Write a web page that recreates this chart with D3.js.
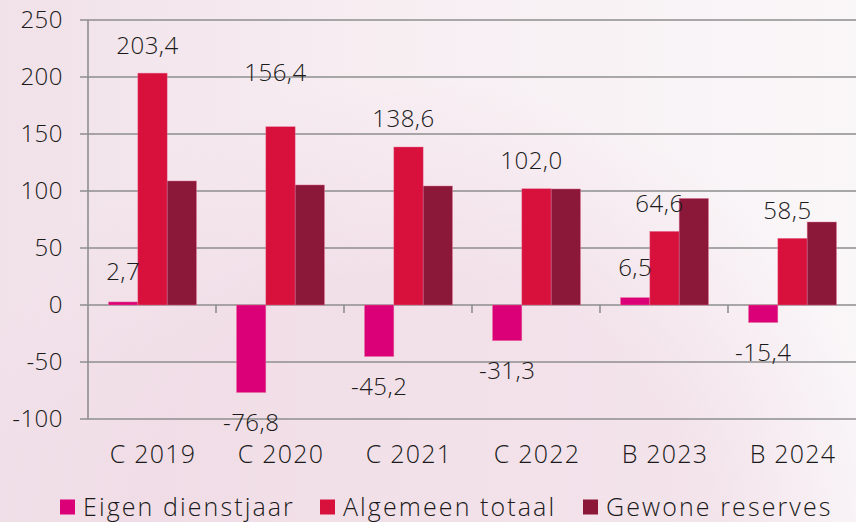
<!DOCTYPE html>
<html><head><meta charset="utf-8">
<script src="https://cdn.jsdelivr.net/npm/d3@7"></script>
<style>
html,body{margin:0;padding:0;}
body{width:856px;height:522px;overflow:hidden;}
text{font-family:"Open Sans",sans-serif;font-weight:300;fill:#1a1a1a;}
</style></head><body>
<svg id="chart" width="856" height="522"></svg>
<script>
const categories = ["C 2019","C 2020","C 2021","C 2022","B 2023","B 2024"];
const seriesNames = ["Eigen dienstjaar","Algemeen totaal","Gewone reserves"];
const eigenDienstjaar = [2.7,-76.8,-45.2,-31.3,6.5,-15.4];
const algemeenTotaal = [203.4,156.4,138.6,102.0,64.6,58.5];
const gewoneReserves = [108.8,105.3,104.4,101.8,93.5,72.8];
const yTicks = [-100,-50,0,50,100,150,200,250];
const colors = ["#dc0078","#d7103c","#8b1838"];

const svg = d3.select("#chart");
const defs = svg.append("defs");
const lg = defs.append("linearGradient").attr("id","bg").attr("x1","0").attr("x2","1").attr("y1","0").attr("y2","0");
lg.append("stop").attr("offset","0").attr("stop-color","#f1e1e9");
lg.append("stop").attr("offset","0.45").attr("stop-color","#f7eef2");
lg.append("stop").attr("offset","1").attr("stop-color","#faf7f9");
svg.append("rect").attr("width",856).attr("height",522).attr("fill","url(#bg)");
const rg = defs.append("radialGradient").attr("id","blob");
rg.append("stop").attr("offset","0.6").attr("stop-color","#eed5e1").attr("stop-opacity",0.55);
rg.append("stop").attr("offset","1").attr("stop-color","#eed5e1").attr("stop-opacity",0);
svg.append("circle").attr("cx",420).attr("cy",560).attr("r",480).attr("fill","url(#blob)");

const data = categories.map((c,i)=>({cat:c, vals:[eigenDienstjaar[i],algemeenTotaal[i],gewoneReserves[i]]}));

const x0 = d3.scaleBand().domain(categories).range([88,856]).padding(0);
const x1 = d3.scaleBand().domain(d3.range(3)).range([20.5,108.5]).padding(0);
const y = d3.scaleLinear().domain([-100,250]).range([419,20]);
const fmt = v => d3.format(".1f")(v).replace(".",",").replace("\u2212","-");

// gridlines
const gridColor = "#8e8e8e";
svg.append("g").selectAll("line").data(yTicks).join("line")
  .attr("x1",80).attr("x2",856).attr("y1",d=>y(d)).attr("y2",d=>y(d))
  .attr("stroke",gridColor).attr("stroke-width",1.6);

// y axis labels
const yAxis = svg.append("g").attr("transform","translate(80,0)")
  .call(d3.axisLeft(y).tickValues(yTicks).tickSize(0).tickPadding(17).tickFormat(d=>String(d)));
yAxis.select(".domain").remove();
yAxis.selectAll("text").style("font-size","24px").style("font-family","'Open Sans',sans-serif").style("font-weight",300).style("letter-spacing","0.5px").attr("fill","#1a1a1a");

// vertical axis line
svg.append("line").attr("x1",88).attr("x2",88).attr("y1",y(250)).attr("y2",y(-100)).attr("stroke",gridColor).attr("stroke-width",1.6);

// category ticks at zero line
svg.append("g").selectAll("line").data(categories.slice(1)).join("line")
  .attr("x1",d=>x0(d)).attr("x2",d=>x0(d)).attr("y1",y(0)).attr("y2",y(0)+8)
  .attr("stroke",gridColor).attr("stroke-width",1.6);

// bars
const groups = svg.append("g").selectAll("g").data(data).join("g")
  .attr("transform",d=>`translate(${x0(d.cat)},0)`);
groups.selectAll("rect").data(d=>d.vals.map((v,k)=>({v,k}))).join("rect")
  .attr("x",d=>x1(d.k)).attr("width",x1.bandwidth())
  .attr("y",d=>y(Math.max(0,d.v))).attr("height",d=>Math.abs(y(d.v)-y(0)))
  .attr("fill",d=>colors[d.k]).attr("stroke","#e87aa0").attr("stroke-width",0.6).attr("stroke-opacity",0.7);

// labels for Eigen dienstjaar
groups.append("text")
  .attr("x",x1(0)+x1.bandwidth()/2)
  .attr("y",d=>d.vals[0]>=0 ? y(d.vals[0])-30 : y(d.vals[0])+30)
  .attr("dy","0.35em").attr("text-anchor","middle")
  .style("font-size","24px").style("letter-spacing","0.5px").text(d=>fmt(d.vals[0]));
// labels for Algemeen totaal
groups.append("text")
  .attr("x",x1(1)+x1.bandwidth()/2 - 5)
  .attr("y",(d,i)=>y(d.vals[1]) - (i===1?54:28))
  .attr("dy","0.35em").attr("text-anchor","middle")
  .style("font-size","24px").style("letter-spacing","0.5px").text(d=>fmt(d.vals[1]));

// x labels
svg.append("g").selectAll("text").data(categories).join("text")
  .attr("x",d=>x0(d)+x0.bandwidth()/2+1).attr("y",454).attr("dy","0.35em")
  .attr("text-anchor","middle").style("font-size","25px").style("letter-spacing","1.2px").text(d=>d);

// legend
const legX = [60,320,583];
const leg = svg.append("g").selectAll("g").data(seriesNames).join("g")
  .attr("transform",(d,i)=>`translate(${legX[i]},507)`);
leg.append("rect").attr("x",0).attr("y",-7.5).attr("width",15).attr("height",15).attr("fill",(d,i)=>colors[i]);
leg.append("text").attr("x",23).attr("y",0).attr("dy","0.35em").style("font-size","25px").style("letter-spacing","2.1px").text(d=>d);
</script>
</body></html>
